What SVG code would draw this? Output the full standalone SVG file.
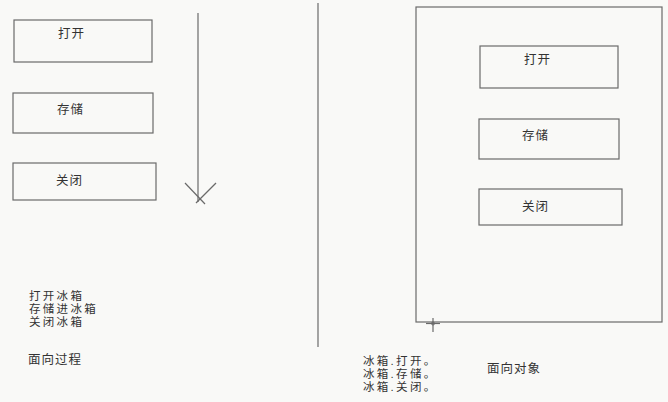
<svg xmlns="http://www.w3.org/2000/svg" width="668" height="402" viewBox="0 0 668 402">
  <style>
    .box { fill: none; stroke: #6a6a6a; stroke-width: 1.2; }
    .ln { fill: none; stroke: #6a6a6a; stroke-width: 1.2; }
    text { font-family: "Noto Sans CJK SC", "DejaVu Sans", sans-serif; font-size: 12.5px; fill: #333; letter-spacing: 1px; }
    .stack { font-family: "Liberation Sans", "Noto Sans CJK SC", sans-serif; font-size: 11.5px; letter-spacing: 2.3px; }
  </style>
  <rect width="668" height="402" fill="#f9f9f7"/>

  <!-- procedural side: steps in sequence -->
  <g id="proc-open">
    <rect class="box" x="14" y="20" width="138" height="42"/>
    <text x="58" y="38">打开</text>
  </g>
  <g id="proc-store">
    <rect class="box" x="13" y="93" width="140" height="40"/>
    <text x="57" y="114">存储</text>
  </g>
  <g id="proc-close">
    <rect class="box" x="13" y="163" width="143" height="37"/>
    <text x="56" y="185">关闭</text>
  </g>

  <g id="connectors">
    <line class="ln" x1="198" y1="13" x2="198" y2="202"/>
    <line class="ln" x1="185" y1="183" x2="205" y2="204"/>
    <line class="ln" x1="216" y1="183" x2="196" y2="203"/>
  </g>

  <!-- divider -->
  <line class="ln" x1="318" y1="3" x2="318" y2="347"/>

  <g id="proc-notes">
    <text class="stack" x="29" y="300">打开冰箱</text>
    <text class="stack" x="29" y="313">存储进冰箱</text>
    <text class="stack" x="29" y="326">关闭冰箱</text>
  </g>
  <g id="proc-title">
    <text x="28" y="364">面向过程</text>
  </g>

  <!-- object side: fridge object holding its methods -->
  <g id="fridge">
    <rect class="box" x="416" y="7" width="246" height="315"/>
  </g>
  <g id="obj-open">
    <rect class="box" x="480" y="46" width="138" height="42"/>
    <text x="524" y="64">打开</text>
  </g>
  <g id="obj-store">
    <rect class="box" x="479" y="119" width="140" height="40"/>
    <text x="522" y="140">存储</text>
  </g>
  <g id="obj-close">
    <rect class="box" x="479" y="189" width="143" height="36"/>
    <text x="522" y="211">关闭</text>
  </g>

  <!-- cursor mark -->
  <g id="cursor">
    <line class="ln" x1="426" y1="323.5" x2="440" y2="323.5"/>
    <line class="ln" x1="433" y1="318" x2="433" y2="332"/>
    <circle cx="433" cy="323.5" r="1.5" fill="none" stroke="#6a6a6a"/>
  </g>

  <g id="obj-notes">
    <text class="stack" x="363" y="365" letter-spacing="1.8">冰箱.打开。</text>
    <text class="stack" x="363" y="378" letter-spacing="1.8">冰箱.存储。</text>
    <text class="stack" x="363" y="391" letter-spacing="1.8">冰箱.关闭。</text>
  </g>
  <g id="obj-title">
    <text x="487" y="373">面向对象</text>
  </g>
</svg>
